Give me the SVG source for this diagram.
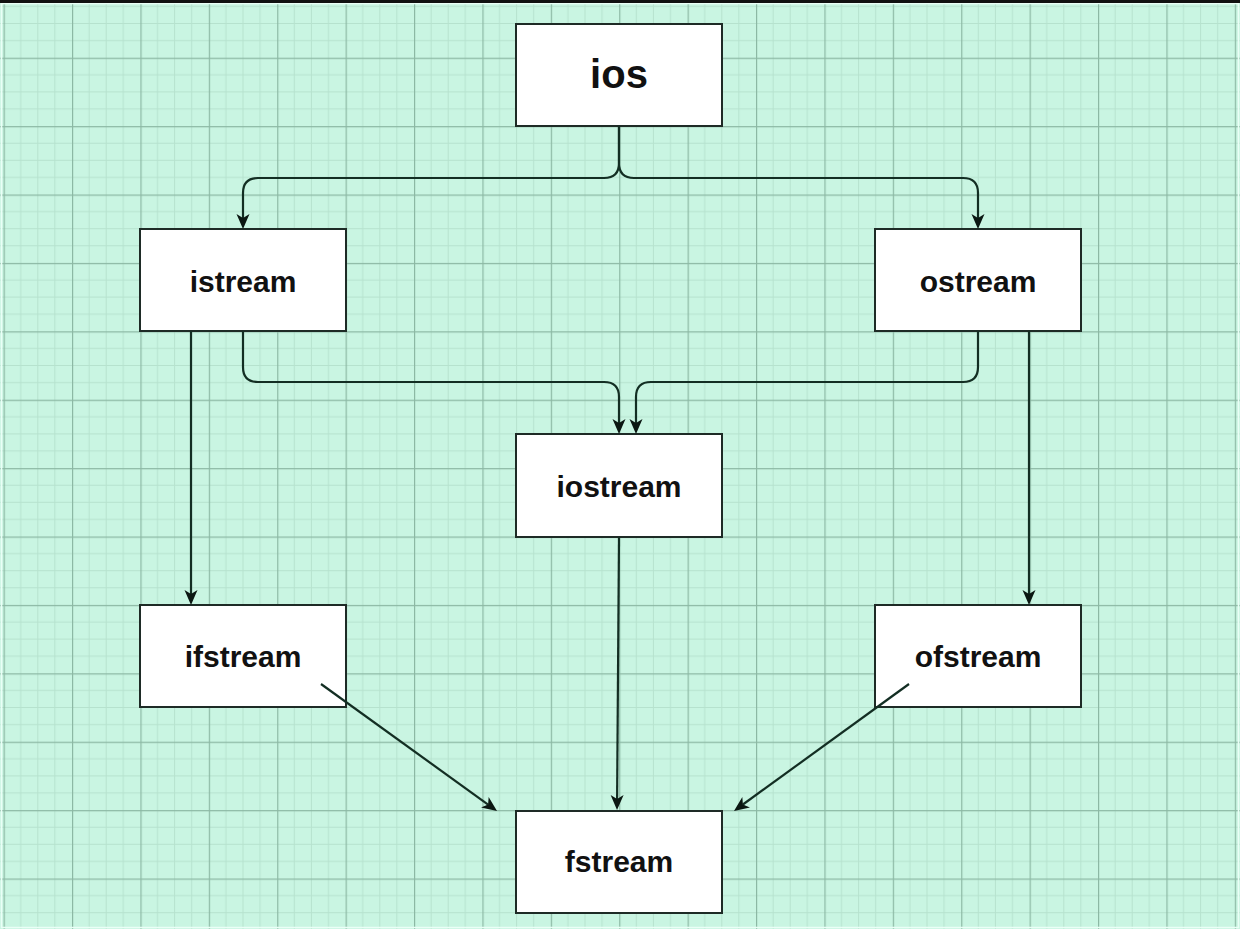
<svg xmlns="http://www.w3.org/2000/svg" width="1240" height="929" viewBox="0 0 1240 929">
<defs>
<pattern id="grid" patternUnits="userSpaceOnUse" x="3.6" y="-10.7" width="68.4" height="68.4">
<g stroke="#b6e2ce" stroke-width="1" fill="none">
<path d="M17.1,0V68.4M34.2,0V68.4M51.3,0V68.4M0,17.1H68.4M0,34.2H68.4M0,51.3H68.4"/>
</g>
<g stroke="#8cb8a4" stroke-width="1.4" fill="none">
<path d="M0.5,0V68.4M0,0.5H68.4"/>
</g>
</pattern>
<marker id="arr" markerUnits="userSpaceOnUse" markerWidth="15" markerHeight="14" viewBox="0 0 15 14" refX="4" refY="7" orient="auto" overflow="visible">
<path d="M0,0.5 L15,7 L0,13.5 L4,7 Z" fill="#0b1712"/>
</marker>
<style>
.box{fill:#ffffff;stroke:#1e2b26;stroke-width:2}
.lbl{font-family:"Liberation Sans",Arial,sans-serif;font-weight:bold;fill:#111;text-anchor:middle}
.edge{fill:none;stroke:#132e23;stroke-width:2.2;marker-end:url(#arr)}
</style>
</defs>
<rect x="0" y="0" width="1240" height="929" fill="#c9f5e2"/>
<rect x="0" y="0" width="1240" height="929" fill="url(#grid)"/>
<rect x="1.5" y="3.5" width="1237" height="924" fill="none" stroke="#eafff6" stroke-width="1.5"/>
<rect x="0" y="0" width="1240" height="3" fill="#111"/>

<g id="node-ios"><rect class="box" x="516" y="24" width="206" height="102"/><text class="lbl" x="619" y="88" font-size="40">ios</text></g>
<g id="node-istream"><rect class="box" x="140" y="229" width="206" height="102"/><text class="lbl" x="243" y="292" font-size="30">istream</text></g>
<g id="node-ostream"><rect class="box" x="875" y="229" width="206" height="102"/><text class="lbl" x="978" y="292" font-size="30">ostream</text></g>
<g id="node-iostream"><rect class="box" x="516" y="434" width="206" height="103"/><text class="lbl" x="619" y="497" font-size="30">iostream</text></g>
<g id="node-ifstream"><rect class="box" x="140" y="605" width="206" height="102"/><text class="lbl" x="243" y="667" font-size="30">ifstream</text></g>
<g id="node-ofstream"><rect class="box" x="875" y="605" width="206" height="102"/><text class="lbl" x="978" y="667" font-size="30">ofstream</text></g>
<g id="node-fstream"><rect class="box" x="516" y="811" width="206" height="102"/><text class="lbl" x="619" y="872" font-size="30">fstream</text></g>

<g id="connectors">
<path class="edge" d="M619,126 V163 Q619,178 604,178 H258 Q243,178 243,193 V218"/>
<path class="edge" d="M619,126 V163 Q619,178 634,178 H963 Q978,178 978,193 V218"/>
<path class="edge" d="M243,331 V367 Q243,382 258,382 H604 Q619,382 619,397 V423"/>
<path class="edge" d="M978,331 V367 Q978,382 963,382 H651 Q636,382 636,397 V423"/>
<path class="edge" d="M191,331 V594"/>
<path class="edge" d="M1029,331 V594"/>
<path class="edge" d="M619,537 L617.1,799"/>
<path class="edge" d="M321,684 L488.1,804.6"/>
<path class="edge" d="M909,684 L742.9,804.5"/>
</g>
</svg>
